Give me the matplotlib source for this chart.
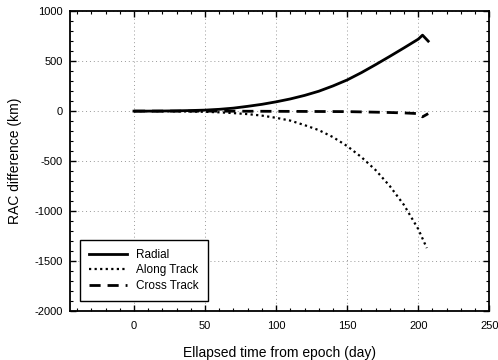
import matplotlib
matplotlib.use("Agg")
import matplotlib.pyplot as plt
from matplotlib.ticker import MultipleLocator

plt.rcParams['font.family'] = ['Liberation Sans', 'DejaVu Sans']
plt.rcParams['axes.unicode_minus'] = False

radial_days = [0, 10, 20, 30, 40, 50, 60, 70, 80, 90, 100, 110, 120, 130, 140, 150,
               160, 170, 180, 190, 200, 203, 207]
radial_km = [0, 0, 1, 3, 6, 10, 18, 30, 48, 68, 93, 122, 157, 199, 252, 312,
             385, 465, 548, 633, 720, 760, 700]

along_days = [0, 10, 20, 30, 40, 50, 60, 70, 80, 90, 100, 110, 120, 130, 140, 150,
              160, 170, 180, 190, 200, 206]
along_km = [0, 0, -1, -2, -4, -7, -12, -20, -30, -45, -67, -95, -140, -190, -260, -350,
            -460, -590, -750, -940, -1180, -1370]

cross_days = [0, 50, 100, 150, 175, 190, 200, 203, 207]
cross_km = [0, 0, -2, -5, -12, -18, -25, -57, -25]

fig = plt.figure(figsize=(4.98, 3.6), dpi=100)
ax = fig.add_axes([0.1406, 0.136, 0.842, 0.833])

ax.plot(radial_days, radial_km, color='black', lw=2.0, ls='-', label='Radial')
ax.plot(along_days, along_km, color='black', lw=1.6, ls=(0, (1, 1.5)), label='Along Track')
ax.plot(cross_days, cross_km, color='black', lw=2.0, ls=(0, (4, 2.5)), label='Cross Track')

ax.set_xlim(-45, 250)
ax.set_ylim(-2000, 1000)
ax.set_xticks([0, 50, 100, 150, 200, 250])
ax.set_yticks([-2000, -1500, -1000, -500, 0, 500, 1000])
ax.xaxis.set_minor_locator(MultipleLocator(10))
ax.yaxis.set_minor_locator(MultipleLocator(100))
ax.tick_params(which='both', direction='in', top=True, right=True, labelsize=8)
ax.tick_params(which='major', length=4, width=1)
ax.tick_params(which='minor', length=2, width=0.8)
ax.tick_params(axis='x', which='major', pad=7)
ax.tick_params(axis='y', which='major', pad=5)
for s in ax.spines.values():
    s.set_linewidth(1.3)

ax.grid(True, which='major', color='#999999', ls=(0, (1, 3)), lw=0.7)

ax.set_xlabel('Ellapsed time from epoch (day)', fontsize=10, labelpad=11)
ax.set_ylabel('RAC difference (km)', fontsize=10, labelpad=9)

leg = ax.legend(loc='lower left', bbox_to_anchor=(0.01, 0.015), fontsize=8.5,
                frameon=True, fancybox=False, edgecolor='black', framealpha=1,
                handlelength=3.2, borderpad=0.75, labelspacing=0.3)
leg.get_frame().set_linewidth(1.0)

fig.savefig('out.png', dpi=100)
